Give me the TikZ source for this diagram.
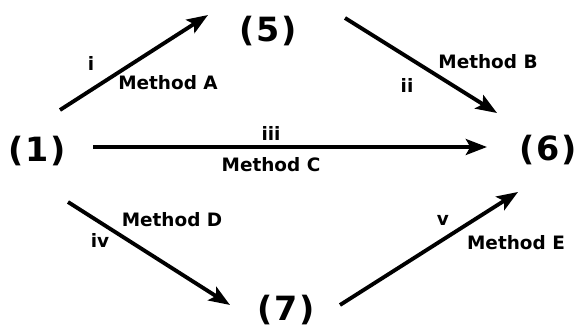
\documentclass[tikz,border=0pt]{standalone}
\usepackage{fontspec}
\setmainfont{DejaVu Sans}
\usetikzlibrary{calc,arrows.meta}

\begin{document}
\begin{tikzpicture}[x=0.02cm,y=-0.02cm,>={Stealth[length=12pt,width=9pt,inset=2.5pt]},
  cpd/.style={font=\bfseries\fontsize{19}{19}\selectfont,inner sep=0pt},
  lbl/.style={font=\bfseries\fontsize{10.5}{12}\selectfont,inner sep=0pt},
  rxn/.style={->,line width=2.2pt}]
  \useasboundingbox (0,0) rectangle (578,327);
  % compounds
  \node[cpd] (c1) at (37,151) {(\kern1pt1\kern1pt)};
  \node[cpd] (c5) at (268,31) {(\kern1pt5\kern1pt)};
  \node[cpd] (c6) at (548,150) {(\kern1pt6\kern1pt)};
  \node[cpd] (c7) at (286,310) {(\kern1pt7\kern1pt)};
  % routes
  \draw[rxn] ($(c1)+(23,-41)$) -- ($(c5)+(-60,-16)$);
  \draw[rxn] ($(c5)+(77,-13)$) -- ($(c6)+(-51,-37)$);
  \draw[rxn] ($(c1)+(56,-4)$) -- ($(c6)+(-61,-3)$);
  \draw[rxn] ($(c1)+(31,51)$) -- ($(c7)+(-56,-5)$);
  \draw[rxn] ($(c7)+(54,-5)$) -- ($(c6)+(-30,42)$);
  % labels
  \node[lbl] (ni) at (91,63) {i};
  \node[lbl] (mA) at (168,83) {Method A};
  \node[lbl] (mB) at (488,62) {Method B};
  \node[lbl] (nii) at (407,85) {ii};
  \node[lbl] (niii) at (271,133) {iii};
  \node[lbl] (mC) at (271,165) {Method C};
  \node[lbl] (mD) at (172,220) {Method D};
  \node[lbl] (niv) at (100,240) {iv};
  \node[lbl] (nv) at (443,220) {v};
  \node[lbl] (mE) at (516,243) {Method E};
\end{tikzpicture}
\end{document}
